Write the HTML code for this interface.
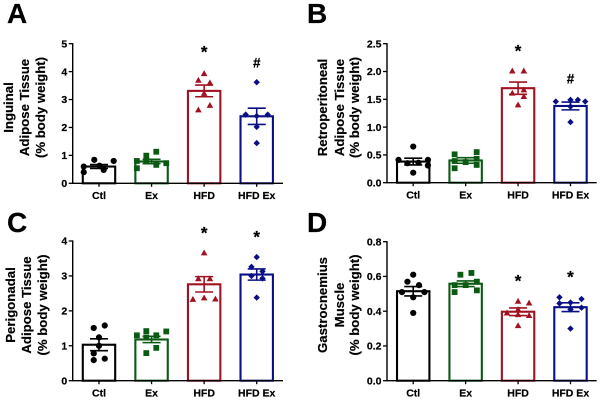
<!DOCTYPE html>
<html lang="en">
<head>
<meta charset="utf-8">
<title>Adipose tissue and muscle mass by group</title>
<style>
html,body{margin:0;padding:0;background:#fff;}
body{width:600px;height:400px;overflow:hidden;}
svg{display:block;font-family:"Liberation Sans",Arial,sans-serif;font-weight:bold;filter:blur(0.3px);}
text{stroke:#000;stroke-width:0.2px;}
</style>
</head>
<body>
<svg id="figure" width="600" height="400" viewBox="0 0 600 400" xmlns="http://www.w3.org/2000/svg"></svg>
<script>
var categories = ["Ctl", "Ex", "HFD", "HFD Ex"];

var ticksA = ["0", "1", "2", "3", "4", "5"];
var ticksB = ["0.0", "0.5", "1.0", "1.5", "2.0", "2.5"];
var ticksC = ["0", "1", "2", "3", "4"];
var ticksD = ["0.0", "0.2", "0.4", "0.6", "0.8"];

var meansA = [0.60, 0.78, 3.31, 2.40];
var semsA = [0.07, 0.08, 0.21, 0.29];
var meansB = [0.38, 0.40, 1.70, 1.38];
var semsB = [0.06, 0.05, 0.11, 0.07];
var meansC = [1.03, 1.18, 2.76, 3.04];
var semsC = [0.17, 0.09, 0.22, 0.16];
var meansD = [0.515, 0.558, 0.397, 0.423];
var semsD = [0.027, 0.016, 0.022, 0.025];

var ctlValuesA = [0.60, 0.40, 0.84, 0.63, 0.48, 0.80];
var ctlSlotsA = [-1.45, -1.45, -0.45, 0.05, 0.45, 1.4];
var exValuesA = [0.80, 0.54, 0.99, 0.80, 1.13, 0.66, 0.72];
var exSlotsA = [-1.4, -1.4, -0.5, -0.5, 0.45, 0.45, 1.4];
var hfdValuesA = [3.93, 3.69, 3.60, 3.22, 2.63, 2.79];
var hfdSlotsA = [0, -0.55, 0.55, 0, -0.55, 0.55];
var hfdExValuesA = [3.62, 2.46, 2.41, 2.46, 2.02, 1.44];
var hfdExSlotsA = [0, -1.05, 0, 1.05, 0, 0];

var ctlValuesB = [0.65, 0.41, 0.41, 0.31, 0.35, 0.36, 0.18];
var ctlSlotsB = [0, -1.4, 1.4, 1.4, -0.55, 0.5, 0];
var exValuesB = [0.51, 0.39, 0.26, 0.37, 0.55, 0.43, 0.32];
var exSlotsB = [-1.05, -1.05, -1.05, 0, 1.05, 1.05, 1.05];
var hfdValuesB = [2.01, 2.01, 1.67, 1.61, 1.55, 1.40];
var hfdSlotsB = [-0.55, 0.55, 0.55, -0.55, 0.55, 0];
var hfdExValuesB = [1.46, 1.49, 1.49, 1.46, 1.37, 1.09];
var hfdExSlotsB = [-1.4, 0, 0.7, 1.4, 0, 0];

var ctlValuesC = [1.51, 1.58, 1.24, 1.00, 0.78, 0.59, 0.63];
var ctlSlotsC = [-0.5, 0.55, 0, 0, -0.5, -0.5, 0.55];
var exValuesC = [1.30, 1.42, 1.41, 1.30, 1.24, 0.94, 0.79];
var exSlotsC = [-1.4, -0.5, 1.4, 0.45, -0.5, 0.45, -0.5];
var hfdValuesC = [3.66, 2.92, 2.92, 2.33, 2.37, 2.34];
var hfdSlotsC = [0, -0.55, 0.55, -1.07, 0, 1.07];
var hfdExValuesC = [3.54, 3.26, 3.13, 3.00, 2.93, 2.38];
var hfdExSlotsC = [0, -0.5, 0.55, -0.5, 0.55, 0];

var ctlValuesD = [0.61, 0.57, 0.55, 0.51, 0.51, 0.48, 0.39];
var ctlSlotsD = [0, -0.55, 0.55, -1.07, 1.07, 0, 0];
var exValuesD = [0.61, 0.62, 0.57, 0.55, 0.55, 0.52, 0.51];
var exSlotsD = [-0.5, 0.55, 1.07, -1.05, 0, 1.07, -1.05];
var hfdValuesD = [0.457, 0.447, 0.41, 0.39, 0.38, 0.375, 0.317];
var hfdSlotsD = [0, 1.05, 0, -1.05, 0, 1.05, 0];
var hfdExValuesD = [0.48, 0.47, 0.45, 0.445, 0.42, 0.41, 0.30];
var hfdExSlotsD = [-1.05, 1.05, 0, -1.05, 1.05, 0, 0];

var sigMarksA = ["", "", "*", "#"];
var sigLevelsA = [0, 0, 4.84, 4.30];
var sigMarksB = ["", "", "*", "#"];
var sigLevelsB = [0, 0, 2.44, 1.865];
var sigMarksC = ["", "", "*", "*"];
var sigLevelsC = [0, 0, 4.35, 4.23];
var sigMarksD = ["", "", "*", "*"];
var sigLevelsD = [0, 0, 0.596, 0.619];

var groupColors = ["#000000", "#0b5a14", "#a01220", "#0a0f85"];
var groupShapes = ["circle", "square", "triangle", "diamond"];

var svgNS = "http://www.w3.org/2000/svg";
var figure = document.getElementById("figure");

function make(parent, tag, attrs, name) {
  var el = document.createElementNS(svgNS, tag);
  for (var k in attrs) {
    el.setAttribute(k, attrs[k]);
  }
  
  
  parent.appendChild(el);
  return el;
}

function drawPoint(g, shape, cx, cy, color, name) {
  if (shape === "circle") {
    make(g, "circle", {cx: cx, cy: cy, r: 3.1, fill: color}, name);
  } else if (shape === "square") {
    make(g, "rect", {x: cx - 2.9, y: cy - 2.9, width: 5.8, height: 5.8, fill: color}, name);
  } else if (shape === "triangle") {
    make(g, "polygon", {points: cx + "," + (cy - 3.4) + " " + (cx + 3.3) + "," + (cy + 2.5) + " " + (cx - 3.3) + "," + (cy + 2.5), fill: color}, name);
  } else {
    make(g, "polygon", {points: cx + "," + (cy - 3.2) + " " + (cx + 3.2) + "," + cy + " " + cx + "," + (cy + 3.2) + " " + (cx - 3.2) + "," + cy, fill: color}, name);
  }
}

function drawPanel(p) {
  var g = make(figure, "g", {}, "panel-" + p.letter.toLowerCase());
  var maxVal = parseFloat(p.ticks[p.ticks.length - 1]);
  var minVal = parseFloat(p.ticks[0]);
  function yScale(v) {
    return p.y0 + (v - minVal) / (maxVal - minVal) * (p.yTop - p.y0);
  }
  function xScale(i) {
    return p.x0 + (i + 0.5) * (p.x1 - p.x0) / categories.length;
  }

  var letter = make(g, "text", {x: p.letterX, y: p.letterY, "font-size": 28, fill: "#000"}, "panel-label");
  letter.textContent = p.letter;

  p.title.forEach(function (line, i) {
    var t = make(g, "text", {
      transform: "translate(" + p.titleX[i] + " " + p.titleY + ") rotate(-90)",
      "text-anchor": "middle", "font-size": 13.2, fill: "#000"
    }, "y-axis-title-line");
    t.textContent = line;
  });

  categories.forEach(function (cat, i) {
    var cx = xScale(i);
    var color = groupColors[i];
    var top = yScale(p.means[i]);
    make(g, "rect", {x: cx - 16.2, y: top, width: 32.4, height: p.y0 - top, fill: "#fff", stroke: color, "stroke-width": 2.1}, "bar-" + cat.toLowerCase().replace(" ", "-"));

    var vals = p.values[i];
    var slots = p.slots[i];
    for (var j = 0; j < vals.length; j++) {
      drawPoint(g, groupShapes[i], cx + slots[j] * 10.5, yScale(vals[j]), color, "data-point");
    }

    var hi = yScale(p.means[i] + p.sems[i]);
    var lo = yScale(p.means[i] - p.sems[i]);
    make(g, "line", {x1: cx, x2: cx, y1: hi, y2: lo, stroke: color, "stroke-width": 1.6}, "error-bar-stem");
    make(g, "line", {x1: cx - 9, x2: cx + 9, y1: hi, y2: hi, stroke: color, "stroke-width": 1.6}, "error-bar-upper-cap");
    make(g, "line", {x1: cx - 9, x2: cx + 9, y1: lo, y2: lo, stroke: color, "stroke-width": 1.6}, "error-bar-lower-cap");

    make(g, "line", {x1: cx, x2: cx, y1: p.y0, y2: p.y0 + 3.5, stroke: "#000", "stroke-width": 1.3}, "x-axis-tick");
    var lab = make(g, "text", {x: cx, y: p.y0 + 15.8, "text-anchor": "middle", "font-size": 10.5, fill: "#000"}, "x-tick-label");
    lab.textContent = cat;

    if (p.sigMarks[i]) {
      var isStar = p.sigMarks[i] === "*";
      var sig = make(g, "text", {
        x: cx, y: yScale(p.sigLevels[i]) + (isStar ? 9.5 : 4.5),
        "text-anchor": "middle", "font-size": isStar ? 17 : 13.5, fill: "#000"
      }, "significance-marker");
      sig.textContent = p.sigMarks[i];
    }
  });

  p.ticks.forEach(function (tick) {
    var y = yScale(parseFloat(tick));
    make(g, "line", {x1: p.x0 - 4, x2: p.x0, y1: y, y2: y, stroke: "#000", "stroke-width": 1.3}, "y-axis-tick");
    var lab = make(g, "text", {x: p.x0 - 5.5, y: y + 3.7, "text-anchor": "end", "font-size": 10.5, fill: "#000"}, "y-tick-label");
    lab.textContent = tick;
  });

  make(g, "line", {x1: p.x0, x2: p.x0, y1: p.yTop - 0.6, y2: p.y0 + 0.6, stroke: "#000", "stroke-width": 1.4}, "y-axis-line");
  make(g, "line", {x1: p.x0, x2: p.x1, y1: p.y0, y2: p.y0, stroke: "#000", "stroke-width": 1.4}, "x-axis-line");
}

drawPanel({
  letter: "A", letterX: 7, letterY: 23,
  x0: 72.7, x1: 283, y0: 183.3, yTop: 43.7,
  ticks: ticksA, means: meansA, sems: semsA,
  values: [ctlValuesA, exValuesA, hfdValuesA, hfdExValuesA],
  slots: [ctlSlotsA, exSlotsA, hfdSlotsA, hfdExSlotsA],
  sigMarks: sigMarksA, sigLevels: sigLevelsA,
  title: ["Inguinal", "Adipose Tissue", "(% body weight)"],
  titleX: [13, 29, 45], titleY: 107.5
});

drawPanel({
  letter: "B", letterX: 307, letterY: 23,
  x0: 387, x1: 596.7, y0: 182.7, yTop: 43.7,
  ticks: ticksB, means: meansB, sems: semsB,
  values: [ctlValuesB, exValuesB, hfdValuesB, hfdExValuesB],
  slots: [ctlSlotsB, exSlotsB, hfdSlotsB, hfdExSlotsB],
  sigMarks: sigMarksB, sigLevels: sigLevelsB,
  title: ["Retroperitoneal", "Adipose Tissue", "(% body weight)"],
  titleX: [327, 344, 359], titleY: 107.5
});

drawPanel({
  letter: "C", letterX: 7, letterY: 232,
  x0: 72.7, x1: 283, y0: 380.7, yTop: 241,
  ticks: ticksC, means: meansC, sems: semsC,
  values: [ctlValuesC, exValuesC, hfdValuesC, hfdExValuesC],
  slots: [ctlSlotsC, exSlotsC, hfdSlotsC, hfdExSlotsC],
  sigMarks: sigMarksC, sigLevels: sigLevelsC,
  title: ["Perigonadal", "Adipose Tissue", "(% body weight)"],
  titleX: [15, 31, 47], titleY: 305
});

drawPanel({
  letter: "D", letterX: 307, letterY: 232,
  x0: 387, x1: 596.7, y0: 380.7, yTop: 241.7,
  ticks: ticksD, means: meansD, sems: semsD,
  values: [ctlValuesD, exValuesD, hfdValuesD, hfdExValuesD],
  slots: [ctlSlotsD, exSlotsD, hfdSlotsD, hfdExSlotsD],
  sigMarks: sigMarksD, sigLevels: sigLevelsD,
  title: ["Gastrocnemius", "Muscle", "(% body weight)"],
  titleX: [327, 344, 359], titleY: 305
});
</script>
</body>
</html>
